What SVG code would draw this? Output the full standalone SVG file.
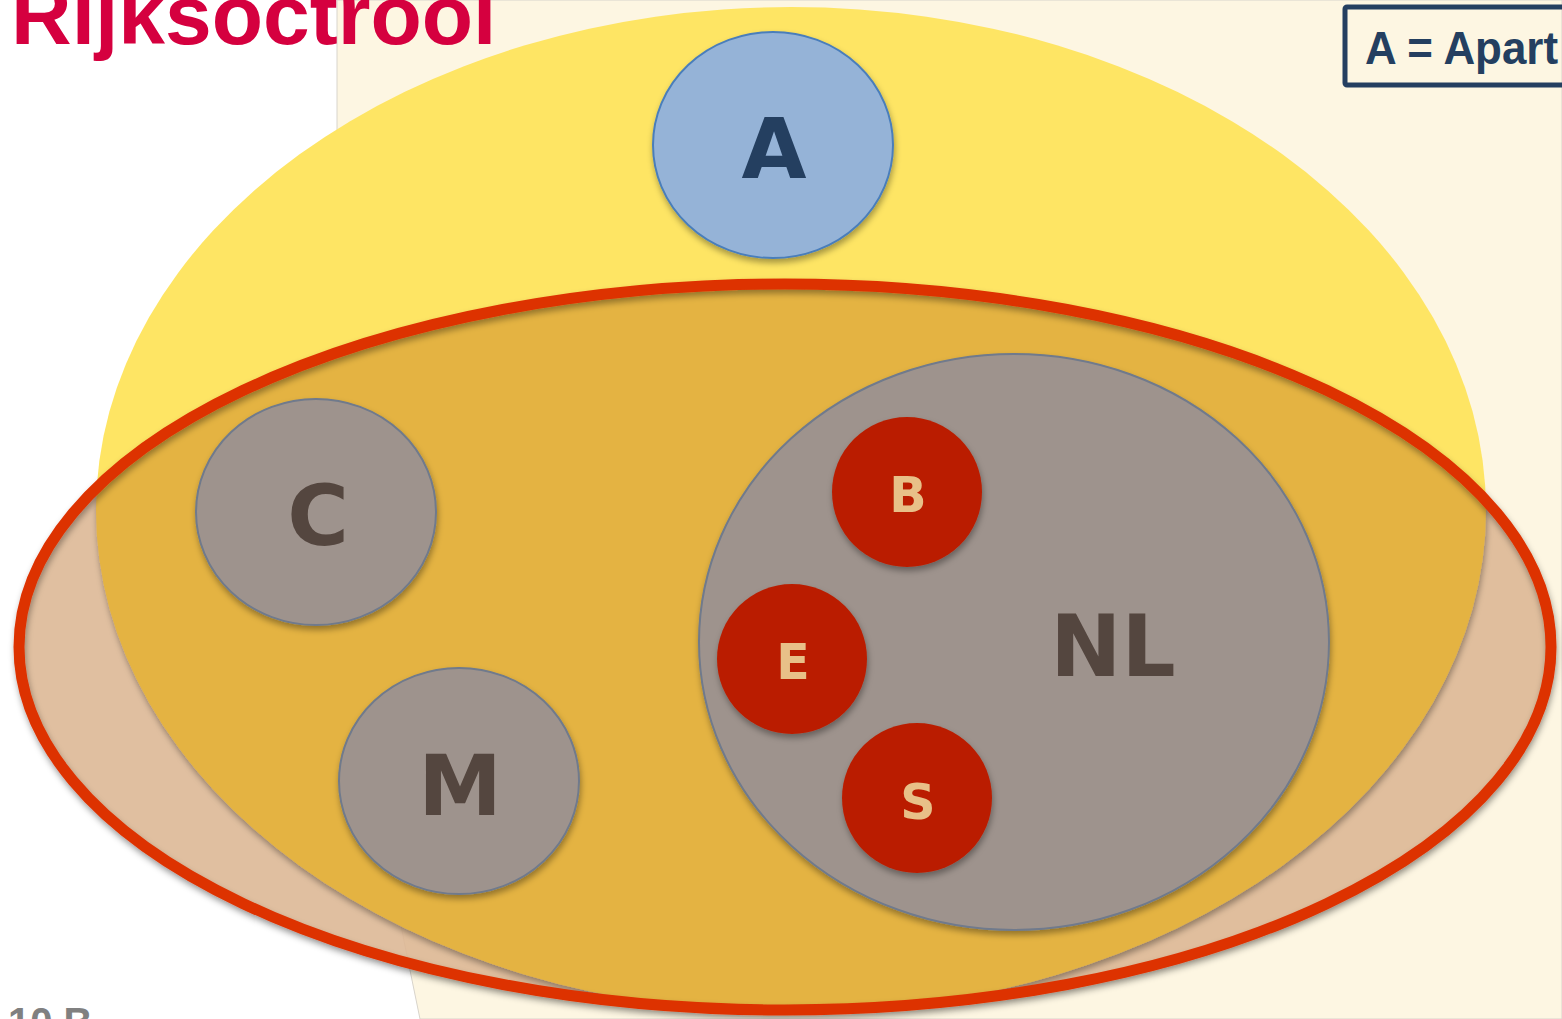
<svg xmlns="http://www.w3.org/2000/svg" width="1562" height="1019" viewBox="0 0 1562 1019">
<style>
.lbl{font-family:"DejaVu Sans","Verdana",sans-serif;font-weight:bold;text-anchor:middle}
.gray{fill:#9e938d;stroke:#6f7a8c;stroke-width:2}
.gtxt{fill:#54463f;font-size:84px}
.red{fill:#ba1e00}
.rtxt{fill:#e8c088;font-size:49px}
</style>
<defs>
<filter id="sh" x="-20%" y="-20%" width="140%" height="140%">
<feDropShadow dx="1" dy="4" stdDeviation="3" flood-color="#000" flood-opacity="0.35"/>
</filter>
<clipPath id="redclip"><ellipse cx="785" cy="647" rx="766" ry="363"/></clipPath>
</defs>
<rect width="1562" height="1019" fill="#ffffff"/>
<path d="M337,0 L1562,0 L1562,1019 L420,1019 Q350,700 337,300 Z" fill="#fdf6e2" stroke="#d8d4cc" stroke-width="1"/>
<text x="11" y="44" font-family="Liberation Sans, Arial, sans-serif" font-weight="bold" font-size="84" fill="#d5003f">Rijksoctrooi</text>
<g id="legend">
<rect x="1345" y="7" width="240" height="78" fill="none" stroke="#243f60" stroke-width="5" rx="2"/>
<text x="1365" y="64" font-family="Liberation Sans, Arial, sans-serif" font-weight="bold" font-size="46" fill="#243f60" textLength="193" lengthAdjust="spacingAndGlyphs">A = Apart</text>
</g>
<text x="8" y="1036" font-family="Liberation Sans, Arial, sans-serif" font-weight="bold" font-size="40" fill="#808080">10 B</text>
<g id="yellow">
<ellipse cx="791" cy="510" rx="695" ry="503" fill="#fee564"/>
</g>
<g id="rijk">
<ellipse cx="785" cy="647" rx="766" ry="363" fill="#e2bb98" fill-opacity="0.85" filter="url(#sh)"/>
<ellipse cx="791" cy="510" rx="695" ry="503" fill="#e4b342" clip-path="url(#redclip)" filter="url(#sh)"/>
<ellipse cx="785" cy="647" rx="766" ry="363" fill="none" stroke="#dd3300" stroke-width="11" filter="url(#sh)"/>
</g>
<g id="nodeA">
<ellipse cx="773" cy="145" rx="120" ry="113" fill="#95b3d7" stroke="#4a7ebb" stroke-width="2" filter="url(#sh)"/>
<text class="lbl" x="774" y="178" font-size="84" fill="#243f60">A</text>
</g>
<g id="nodeC">
<ellipse class="gray" cx="316" cy="512" rx="120" ry="113" filter="url(#sh)"/>
<text class="lbl gtxt" x="318" y="545">C</text>
</g>
<g id="nodeM">
<ellipse class="gray" cx="459" cy="781" rx="120" ry="113" filter="url(#sh)"/>
<text class="lbl gtxt" x="460" y="815">M</text>
</g>
<g id="nodeNL">
<ellipse class="gray" cx="1014" cy="642" rx="315" ry="288" filter="url(#sh)"/>
<text class="lbl" x="1113" y="676" font-size="85" fill="#54463f">NL</text>
</g>
<g id="nodeB">
<circle class="red" cx="907" cy="492" r="75" filter="url(#sh)"/>
<text class="lbl rtxt" x="908" y="512">B</text>
</g>
<g id="nodeE">
<circle class="red" cx="792" cy="659" r="75" filter="url(#sh)"/>
<text class="lbl rtxt" x="793" y="679">E</text>
</g>
<g id="nodeS">
<circle class="red" cx="917" cy="798" r="75" filter="url(#sh)"/>
<text class="lbl rtxt" x="918" y="819">S</text>
</g>
<g id="connectors"/>
</svg>
